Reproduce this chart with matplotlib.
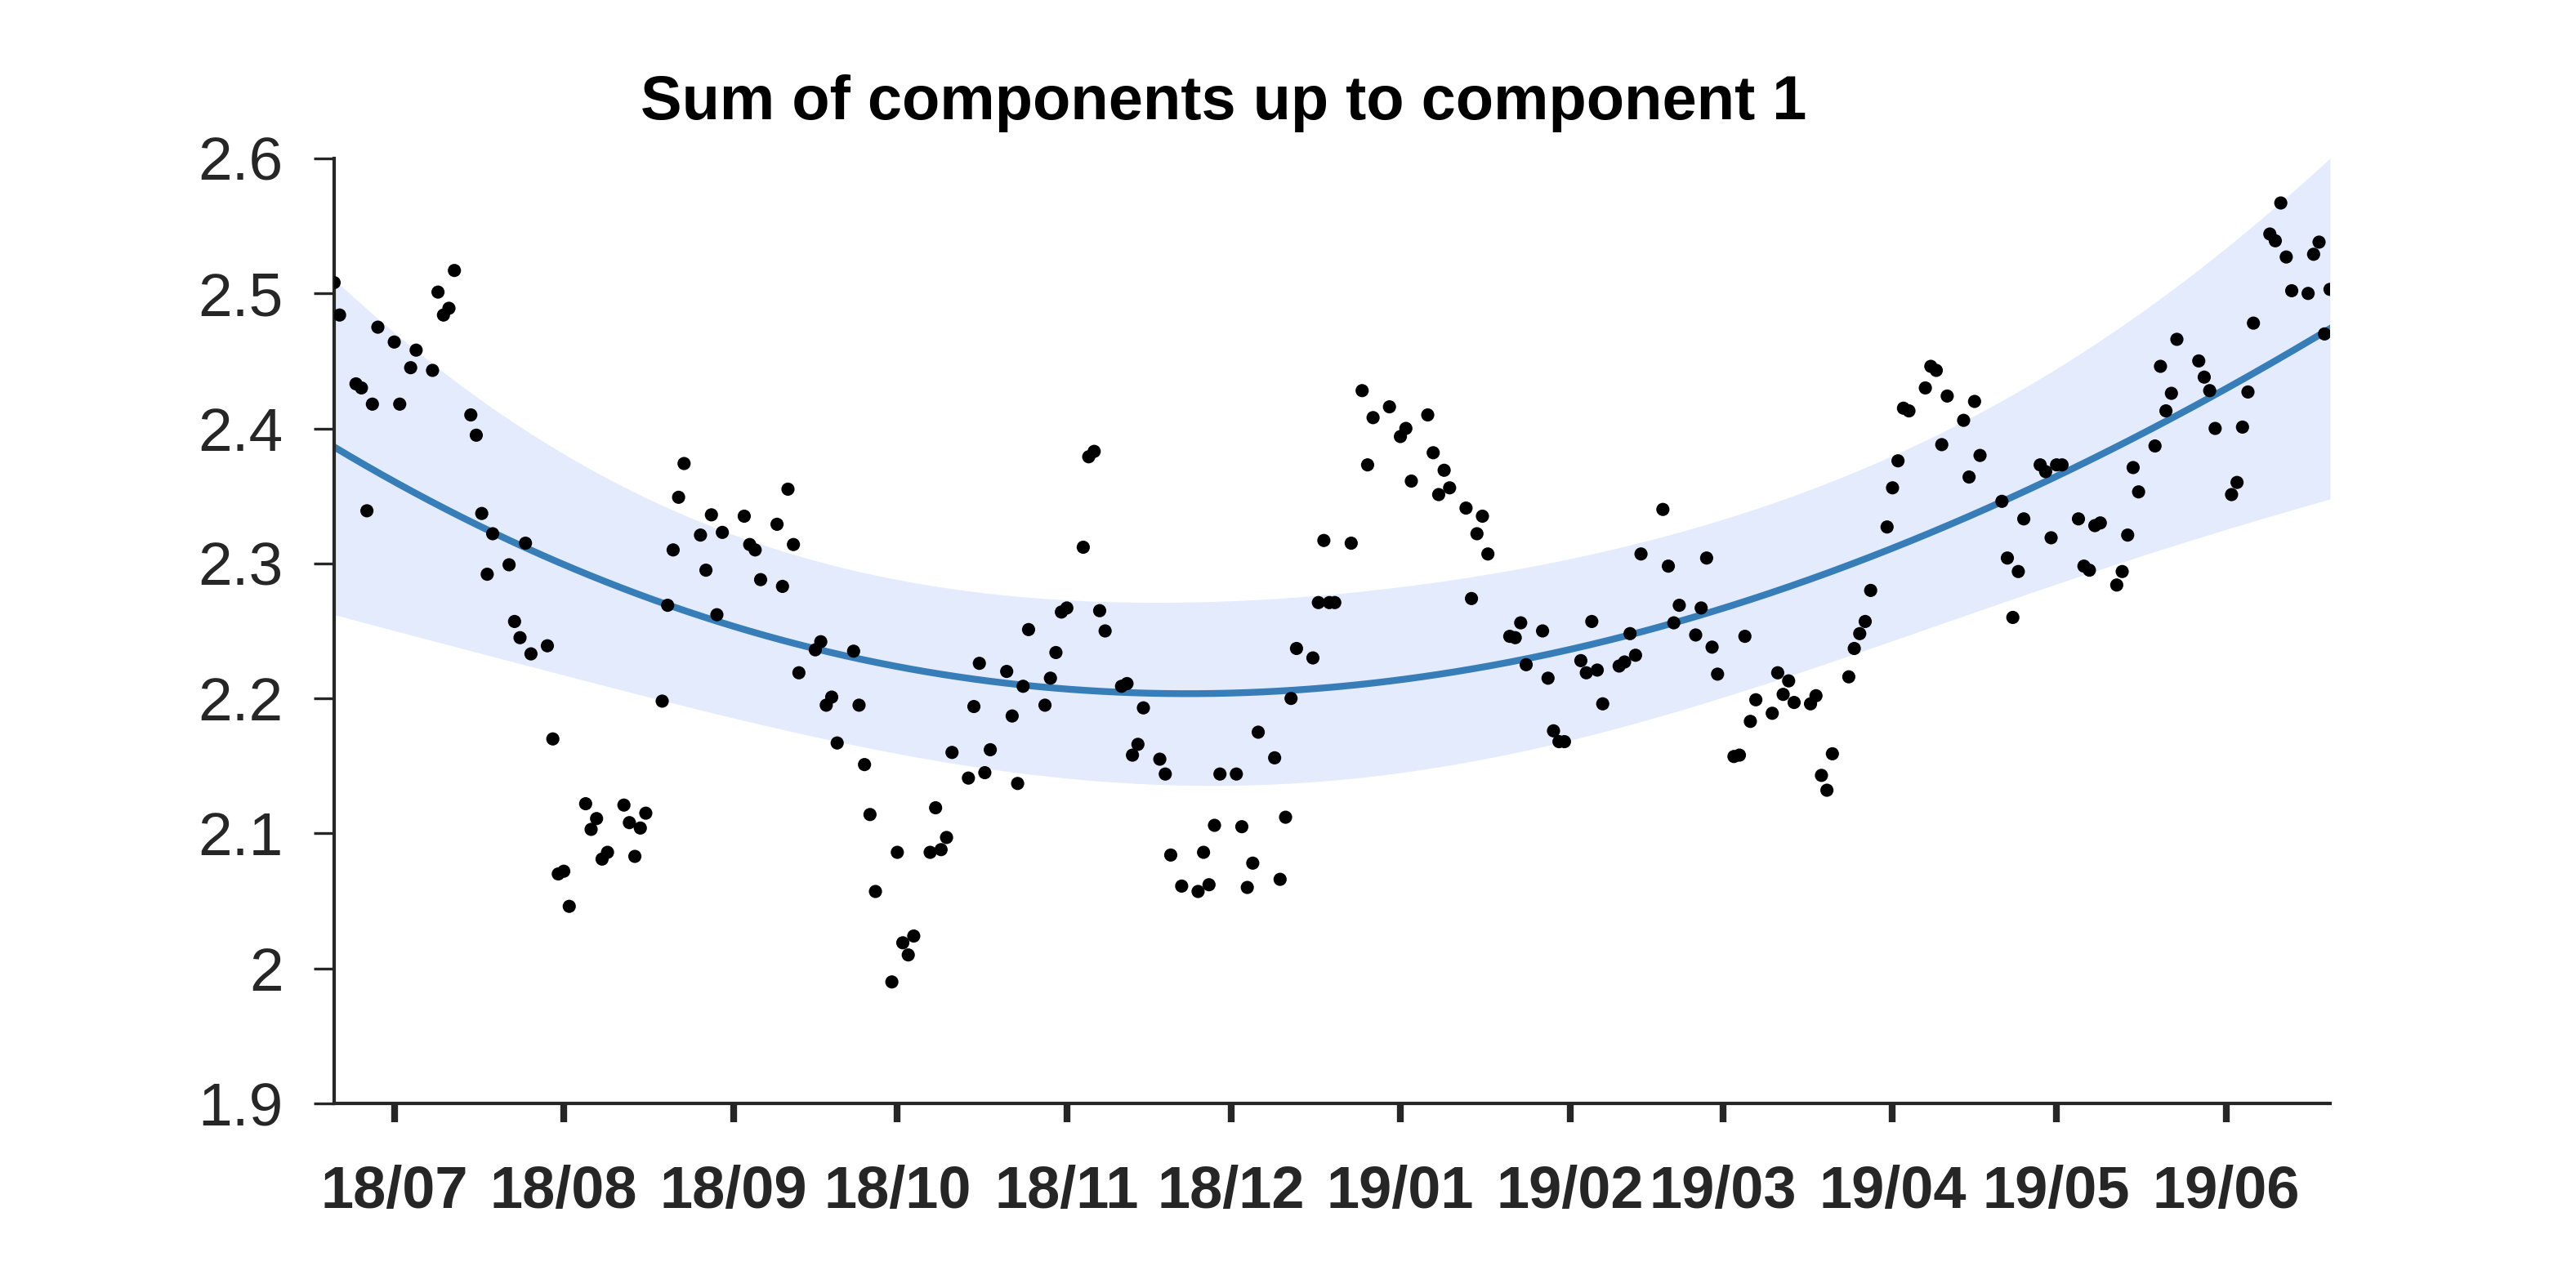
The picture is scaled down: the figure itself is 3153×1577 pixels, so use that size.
import numpy as np
import pandas as pd
import matplotlib
matplotlib.use('Agg')
import matplotlib.pyplot as plt
import matplotlib.dates as mdates

plt.rcParams['font.family'] = ['Liberation Sans', 'DejaVu Sans']

jun18 = [2.508, 2.484, 2.433, 2.430, 2.339, 2.418, 2.475]
jul18 = [2.464, 2.418, 2.445, 2.458, 2.443, 2.501, 2.484, 2.489, 2.517, 2.410,
         2.395, 2.337, 2.292, 2.322, 2.299, 2.257, 2.245, 2.315, 2.233, 2.239,
         2.170]
aug18 = [2.070, 2.072, 2.046, 2.122, 2.103, 2.111, 2.081, 2.086, 2.121, 2.108,
         2.083, 2.104, 2.115, 2.198, 2.269, 2.310, 2.349, 2.374, 2.321, 2.295,
         2.336, 2.262, 2.323]
sep18 = [2.335, 2.314, 2.310, 2.288, 2.329, 2.283, 2.355, 2.314, 2.219, 2.236,
         2.242, 2.195, 2.201, 2.167, 2.235, 2.195, 2.151, 2.114, 2.057]
oct18 = [1.990, 2.086, 2.019, 2.010, 2.024, 2.086, 2.119, 2.088, 2.097, 2.160,
         2.141, 2.194, 2.226, 2.145, 2.162, 2.220, 2.187, 2.137, 2.209, 2.251,
         2.195, 2.215, 2.234]
nov18 = [2.264, 2.267, 2.312, 2.379, 2.383, 2.265, 2.250, 2.209, 2.211, 2.158,
         2.166, 2.193, 2.155, 2.144, 2.084, 2.061, 2.057, 2.086, 2.062, 2.106,
         2.144]
dec18 = [2.144, 2.105, 2.060, 2.078, 2.175, 2.156, 2.066, 2.112, 2.200, 2.237,
         2.230, 2.271, 2.317, 2.271, 2.271, 2.315, 2.428, 2.373, 2.408, 2.416]
jan19 = [2.394, 2.400, 2.361, 2.410, 2.382, 2.351, 2.369, 2.356, 2.341, 2.274,
         2.322, 2.335, 2.307, 2.246, 2.245, 2.256, 2.225, 2.250, 2.215, 2.176,
         2.168]
feb19 = [2.168, 2.228, 2.219, 2.257, 2.221, 2.196, 2.224, 2.227, 2.248, 2.232,
         2.307, 2.340, 2.298, 2.256, 2.269, 2.247, 2.267, 2.304, 2.238]
mar19 = [2.218, 2.157, 2.158, 2.246, 2.183, 2.199, 2.189, 2.219, 2.203, 2.213,
         2.197, 2.196, 2.202, 2.143, 2.132, 2.159, 2.216, 2.237, 2.248, 2.257,
         2.280]
apr19 = [2.327, 2.356, 2.376, 2.415, 2.413, 2.430, 2.446, 2.443, 2.388, 2.424,
         2.406, 2.364, 2.420, 2.380, 2.346, 2.304, 2.260, 2.294, 2.333, 2.373,
         2.368]
may19 = [2.319, 2.373, 2.373, 2.333, 2.298, 2.295, 2.328, 2.330, 2.284, 2.294,
         2.321, 2.371, 2.353, 2.387, 2.446, 2.413, 2.426, 2.466, 2.450, 2.438,
         2.428, 2.400]
jun19 = [2.351, 2.360, 2.401, 2.427, 2.478, 2.544, 2.539, 2.567, 2.527, 2.502,
         2.500, 2.529, 2.538, 2.470, 2.503]

closed = ['2018-07-04', '2018-09-03', '2018-11-22', '2018-12-25', '2019-01-01',
          '2019-01-21', '2019-02-18', '2019-04-19', '2019-05-27']

# fitted component: centre and half width of the band, read at a few dates
trend_dates = ['2018-06-21', '2018-07-21', '2018-08-21', '2018-09-20',
               '2018-10-21', '2018-11-24', '2018-12-22', '2019-01-19',
               '2019-02-21', '2019-03-23', '2019-04-22', '2019-05-22',
               '2019-06-21']
trend_mid = [2.384, 2.322, 2.271, 2.238, 2.211, 2.201, 2.206, 2.223,
             2.255, 2.300, 2.346, 2.408, 2.471]
trend_half = [0.124, 0.092, 0.070, 0.066, 0.066, 0.067, 0.068, 0.069,
              0.066, 0.068, 0.073, 0.095, 0.126]

yticks = [1.9, 2.0, 2.1, 2.2, 2.3, 2.4, 2.5, 2.6]
ytick_labels = ['1.9', '2', '2.1', '2.2', '2.3', '2.4', '2.5', '2.6']

days = pd.bdate_range('2018-06-21', '2019-06-21')
days = days[~days.isin(pd.to_datetime(closed))]
values = np.concatenate([jun18, jul18, aug18, sep18, oct18, nov18, dec18,
                         jan19, feb19, mar19, apr19, may19, jun19])
assert len(days) == len(values)

# timestamps were stored at midnight UTC, the plot shows them a day early
shift = pd.Timedelta(days=1)
x = mdates.date2num(days - shift)

tk = mdates.date2num(pd.to_datetime(trend_dates) - shift)
centre = tk.mean()
span = (tk[-1] - tk[0]) / 2
tt = np.linspace(tk[0], tk[-1], 500)
mid = np.polyval(np.polyfit((tk - centre) / span, trend_mid, 3), (tt - centre) / span)
half = np.polyval(np.polyfit((tk - centre) / span, trend_half, 6), (tt - centre) / span)

fig = plt.figure(figsize=(3153 / 300, 1577 / 300), dpi=300)
ax = fig.add_axes([0.1297, 0.1433, 0.7748, 0.7337])

ax.fill_between(tt, mid - half, mid + half, color='#e3ebfd', lw=0, zorder=1)
ax.plot(tt, mid, color='#377eb8', lw=2.0, zorder=2)
ax.scatter(x, values, s=15, color='black', edgecolors='none', zorder=3)

ax.set_xlim(mdates.date2num(pd.Timestamp('2018-06-21') - shift),
            mdates.date2num(pd.Timestamp('2019-06-21') - shift))
ax.set_ylim(1.9, 2.6)

months = pd.date_range('2018-07-01', '2019-06-01', freq='MS')
ax.set_xticks(mdates.date2num(months))
ax.set_xticklabels([m.strftime('%y/%m') for m in months], fontweight='bold')
ax.set_yticks(yticks)
ax.set_yticklabels(ytick_labels)

dark = '#262626'
for side in ['top', 'right']:
    ax.spines[side].set_visible(False)
for side in ['left', 'bottom']:
    ax.spines[side].set_color(dark)
    ax.spines[side].set_linewidth(1.0)

ax.tick_params(axis='x', direction='out', length=5.5, width=2.0, pad=12.5,
               colors=dark, labelsize=17.3)
ax.tick_params(axis='y', direction='out', length=6, width=0.8, pad=9,
               colors=dark, labelsize=18)

fig.text(0.475, 0.9195, 'Sum of components up to component 1', ha='center',
         va='center', fontsize=18.2, fontweight='bold', color='black')

fig.savefig('out.png', dpi=300, facecolor='white')
